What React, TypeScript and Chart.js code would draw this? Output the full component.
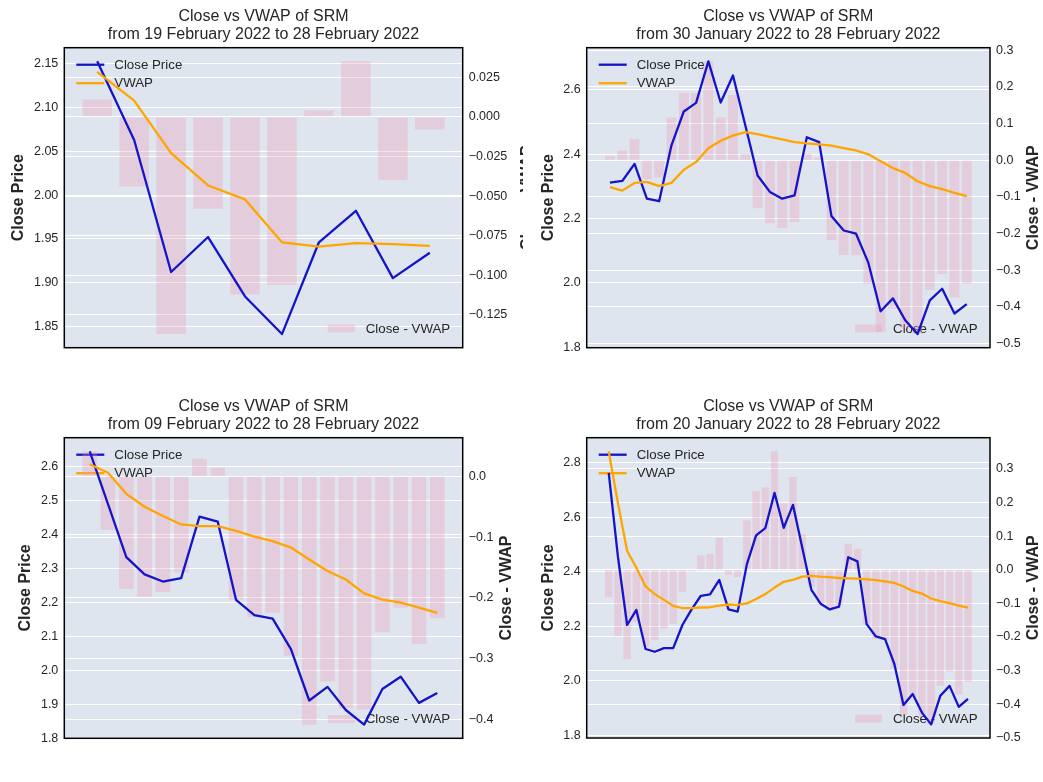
import React, { useEffect, useRef } from "react";
import { Chart, registerables } from "chart.js";

Chart.register(...registerables);

// ---------------- data ----------------
// Daily close price of SRM, 20 January 2022 .. 28 February 2022 (40 days)
const closePrices = [
  2.762, 2.455, 2.205, 2.26, 2.117, 2.107, 2.12, 2.12, 2.205, 2.262,
  2.312, 2.317, 2.37, 2.262, 2.254, 2.428, 2.533, 2.56, 2.689, 2.561,
  2.645, 2.49, 2.334, 2.283, 2.262, 2.272, 2.453, 2.438, 2.208, 2.163,
  2.153, 2.063, 1.912, 1.952, 1.884, 1.841, 1.946, 1.982, 1.905, 1.934,
];

// VWAP accumulated from each window start
const vwapFrom19Feb = [2.141, 2.108, 2.048, 2.011, 1.995, 1.946, 1.941, 1.945, 1.944, 1.942];
const vwapFrom30Jan = [
  2.298, 2.287, 2.311, 2.314, 2.301, 2.311, 2.352, 2.376, 2.419, 2.442,
  2.458, 2.469, 2.463, 2.454, 2.446, 2.438, 2.434, 2.431, 2.427, 2.419,
  2.412, 2.4, 2.378, 2.357, 2.342, 2.316, 2.301, 2.292, 2.28, 2.27,
];
const vwapFrom09Feb = [
  2.607, 2.582, 2.52, 2.482, 2.455, 2.43, 2.425, 2.425, 2.411, 2.394,
  2.381, 2.362, 2.327, 2.293, 2.268, 2.227, 2.209, 2.2, 2.185, 2.17,
];
const vwapFrom20Jan = [
  2.841, 2.652, 2.476, 2.415, 2.346, 2.318, 2.297, 2.275, 2.267, 2.267,
  2.269, 2.27, 2.276, 2.28, 2.279, 2.284, 2.3, 2.318, 2.342, 2.363,
  2.37, 2.382, 2.385, 2.382, 2.38, 2.377, 2.376, 2.375, 2.372, 2.369,
  2.365, 2.359, 2.346, 2.33, 2.32, 2.302, 2.292, 2.285, 2.276, 2.269,
];

// Close - VWAP bars
const diffFrom19Feb = [0.011, -0.044, -0.137, -0.058, -0.112, -0.106, 0.004, 0.035, -0.04, -0.008];
const diffFrom30Jan = [
  0.012, 0.027, 0.058, -0.052, -0.047, 0.117, 0.184, 0.184, 0.27, 0.117,
  0.178, 0.018, -0.131, -0.172, -0.185, -0.168, 0.017, 0.007, -0.218, -0.258,
  -0.259, -0.336, -0.468, -0.404, -0.458, -0.474, -0.354, -0.31, -0.374, -0.336,
];
const diffFrom09Feb = [
  0.041, -0.088, -0.185, -0.198, -0.19, -0.158, 0.029, 0.014, -0.203, -0.231,
  -0.224, -0.295, -0.408, -0.337, -0.381, -0.383, -0.256, -0.216, -0.276, -0.233,
];
const diffFrom20Jan = [
  -0.082, -0.198, -0.266, -0.155, -0.229, -0.209, -0.176, -0.161, -0.066, -0.005,
  0.042, 0.047, 0.094, -0.016, -0.022, 0.147, 0.234, 0.245, 0.352, 0.198,
  0.276, 0.105, -0.051, -0.099, -0.118, -0.105, 0.077, 0.062, -0.164, -0.206,
  -0.21, -0.294, -0.433, -0.377, -0.436, -0.46, -0.345, -0.303, -0.371, -0.333,
];

// tick values
const leftTicks19Feb = [1.85, 1.9, 1.95, 2.0, 2.05, 2.1, 2.15];
const rightTicks19Feb = [-0.125, -0.1, -0.075, -0.05, -0.025, 0, 0.025];
const leftTicks30Jan = [1.8, 2.0, 2.2, 2.4, 2.6];
const rightTicks30Jan = [-0.5, -0.4, -0.3, -0.2, -0.1, 0, 0.1, 0.2, 0.3];
const leftTicks09Feb = [1.8, 1.9, 2.0, 2.1, 2.2, 2.3, 2.4, 2.5, 2.6];
const rightTicks09Feb = [-0.4, -0.3, -0.2, -0.1, 0];
const leftTicks20Jan = [1.8, 2.0, 2.2, 2.4, 2.6, 2.8];
const rightTicks20Jan = [-0.5, -0.4, -0.3, -0.2, -0.1, 0, 0.1, 0.2, 0.3];

const symbol = "SRM";
const endDate = "28 February 2022";
const seriesNames = ["Close Price", "VWAP", "Close - VWAP"];
const axisNames = ["Close Price", "Close - VWAP"];

// ---------------- style ----------------
const FONT = '"Liberation Sans", Arial, Helvetica, sans-serif';
const TEXT = "#262626";
const PLOT_BG = "#dfe5ef";
const CLOSE_COLOR = "#1414c8";
const VWAP_COLOR = "#ffa500";
const BAR_COLOR = "rgba(240, 150, 175, 0.3)";

type Panel = {
  canvas: [number, number, number, number]; // x, y, w, h (page)
  plot: [number, number, number, number]; // left, top, right, bottom (page)
  start: string;
  vwap: number[];
  diff: number[];
  leftTicks: number[];
  leftDec: number;
  rightTicks: number[];
  rightDec: number;
  rightLabelX?: number; // page x override
};

const panels: Panel[] = [
  {
    canvas: [0, 0, 523, 391],
    plot: [64.3, 47.7, 462.7, 347.7],
    start: "19 February 2022",
    vwap: vwapFrom19Feb,
    diff: diffFrom19Feb,
    leftTicks: leftTicks19Feb,
    leftDec: 2,
    rightTicks: rightTicks19Feb,
    rightDec: 3,
    rightLabelX: 528,
  },
  {
    canvas: [523, 0, 520, 391],
    plot: [586.7, 47.7, 990, 347.7],
    start: "30 January 2022",
    vwap: vwapFrom30Jan,
    diff: diffFrom30Jan,
    leftTicks: leftTicks30Jan,
    leftDec: 1,
    rightTicks: rightTicks30Jan,
    rightDec: 1,
  },
  {
    canvas: [0, 391, 523, 391],
    plot: [64.3, 437.7, 462.7, 738.3],
    start: "09 February 2022",
    vwap: vwapFrom09Feb,
    diff: diffFrom09Feb,
    leftTicks: leftTicks09Feb,
    leftDec: 1,
    rightTicks: rightTicks09Feb,
    rightDec: 1,
  },
  {
    canvas: [523, 391, 520, 391],
    plot: [586.7, 437.7, 990, 738],
    start: "20 January 2022",
    vwap: vwapFrom20Jan,
    diff: diffFrom20Jan,
    leftTicks: leftTicks20Jan,
    leftDec: 1,
    rightTicks: rightTicks20Jan,
    rightDec: 1,
  },
];

const fmt = (v: number, dec: number) => {
  const s = Math.abs(v).toFixed(dec);
  return v < -1e-9 ? "\u2212" + s : s;
};

const paddedRange = (vals: number[]) => {
  const lo = Math.min(...vals);
  const hi = Math.max(...vals);
  const m = (hi - lo) * 0.05;
  return [lo - m, hi + m];
};

function PanelChart({ p }: { p: Panel }) {
  const ref = useRef<HTMLCanvasElement | null>(null);

  useEffect(() => {
    if (!ref.current) return;
    const [cx, cy, cw, ch] = p.canvas;
    const [pl, pt, pr, pb] = p.plot;
    const n = p.vwap.length;
    const close = closePrices.slice(closePrices.length - n);
    const xPad = 0.05 * (n - 0.2);
    const xMin = -0.4 - xPad;
    const xMax = n - 1 + 0.4 + xPad;
    const [yMin, yMax] = paddedRange([...close, ...p.vwap]);
    const [y1Min, y1Max] = paddedRange(p.diff);

    const leftW = pl - cx;
    const rightW = cx + cw - pr;
    const padTop = pt - cy;
    const padBottom = cy + ch - pb;

    const tickFont = { family: FONT, size: 12.5 };

    const deco = {
      id: "panelDeco",
      beforeDraw(chart: any) {
        const { ctx, chartArea: a, width, height } = chart;
        ctx.save();
        ctx.fillStyle = "#ffffff";
        ctx.fillRect(0, 0, width, height);
        ctx.fillStyle = PLOT_BG;
        ctx.fillRect(a.left, a.top, a.right - a.left, a.bottom - a.top);
        ctx.restore();
      },
      beforeDatasetsDraw(chart: any) {
        const { ctx, chartArea: a } = chart;
        ctx.save();
        ctx.font = `13.3px ${FONT}`;
        ctx.textBaseline = "middle";
        ctx.fillStyle = TEXT;
        // line legend (upper left)
        const rows = [
          { name: seriesNames[0], color: CLOSE_COLOR, y: a.top + 17 },
          { name: seriesNames[1], color: VWAP_COLOR, y: a.top + 35.5 },
        ];
        rows.forEach((r) => {
          ctx.strokeStyle = r.color;
          ctx.lineWidth = 2.3;
          ctx.beginPath();
          ctx.moveTo(a.left + 12, r.y);
          ctx.lineTo(a.left + 40, r.y);
          ctx.stroke();
          ctx.textAlign = "left";
          ctx.fillText(r.name, a.left + 50, r.y + 0.5);
        });
        // bar legend (lower right)
        const by = a.bottom - 19.3;
        const tw = ctx.measureText(seriesNames[2]).width;
        const tx = a.right - 12.5 - tw;
        ctx.fillStyle = BAR_COLOR;
        ctx.fillRect(tx - 38, by - 4, 27, 8);
        ctx.fillStyle = TEXT;
        ctx.textAlign = "left";
        ctx.fillText(seriesNames[2], tx, by + 0.5);
        ctx.restore();
      },
      afterDraw(chart: any) {
        const { ctx, chartArea: a } = chart;
        ctx.save();
        // spines
        ctx.strokeStyle = "#000000";
        ctx.lineWidth = 1.5;
        ctx.strokeRect(a.left, a.top, a.right - a.left, a.bottom - a.top);
        // title
        const mid = (a.left + a.right) / 2;
        ctx.fillStyle = TEXT;
        ctx.font = `16px ${FONT}`;
        ctx.textAlign = "center";
        ctx.textBaseline = "middle";
        ctx.fillText(`Close vs VWAP of ${symbol}`, mid, a.top - 31.5);
        ctx.fillText(`from ${p.start} to ${endDate}`, mid, a.top - 13);
        // axis labels
        ctx.font = `12.5px ${FONT}`;
        const lw = Math.max(...p.leftTicks.map((v) => ctx.measureText(fmt(v, p.leftDec)).width));
        const rw = Math.max(...p.rightTicks.map((v) => ctx.measureText(fmt(v, p.rightDec)).width));
        const yMid = (a.top + a.bottom) / 2;
        ctx.font = `bold 16px ${FONT}`;
        const lx = a.left - 6 - lw - 15;
        ctx.save();
        ctx.translate(lx, yMid);
        ctx.rotate(-Math.PI / 2);
        ctx.fillText(axisNames[0], 0, 0);
        ctx.restore();
        const rx = p.rightLabelX !== undefined ? p.rightLabelX - cx : a.right + 6 + rw + 13;
        ctx.save();
        ctx.translate(rx, yMid);
        ctx.rotate(-Math.PI / 2);
        ctx.fillText(axisNames[1], 0, 0);
        ctx.restore();
        ctx.restore();
      },
    };

    const chart = new Chart(ref.current, {
      data: {
        datasets: [
          {
            type: "line",
            label: seriesNames[1],
            data: p.vwap.map((v, i) => ({ x: i, y: v })),
            borderColor: VWAP_COLOR,
            borderWidth: 2.3,
            pointRadius: 0,
            tension: 0,
            fill: false,
            yAxisID: "y",
            xAxisID: "x",
            borderJoinStyle: "round",
            order: 1,
          },
          {
            type: "line",
            label: seriesNames[0],
            data: close.map((v, i) => ({ x: i, y: v })),
            borderColor: CLOSE_COLOR,
            borderWidth: 2.3,
            pointRadius: 0,
            tension: 0,
            fill: false,
            yAxisID: "y",
            xAxisID: "x",
            borderJoinStyle: "round",
            order: 2,
          },
          {
            type: "bar",
            label: seriesNames[2],
            data: p.diff.map((v, i) => ({ x: i, y: v })),
            backgroundColor: BAR_COLOR,
            borderWidth: 0,
            barPercentage: 0.8,
            categoryPercentage: 1.0,
            yAxisID: "y1",
            xAxisID: "x",
            order: 3,
          },
        ] as any,
      },
      options: {
        animation: false,
        responsive: false,
        maintainAspectRatio: false,
        events: [],
        layout: { padding: { top: padTop, bottom: padBottom, left: 0, right: 0 } },
        plugins: {
          legend: { display: false },
          title: { display: false },
          tooltip: { enabled: false },
        },
        scales: {
          x: { type: "linear", min: xMin, max: xMax, offset: false, display: false },
          y: {
            type: "linear",
            position: "left",
            min: yMin,
            max: yMax,
            grid: { color: "#ffffff", lineWidth: 1.1, drawTicks: false },
            border: { display: false },
            ticks: {
              padding: 6,
              color: TEXT,
              font: tickFont,
              autoSkip: false,
              callback: (v: any) => fmt(Number(v), p.leftDec),
            },
            afterBuildTicks: (s: any) => {
              s.ticks = p.leftTicks.map((v) => ({ value: v }));
            },
            afterFit: (s: any) => {
              s.width = leftW;
            },
          },
          y1: {
            type: "linear",
            position: "right",
            min: y1Min,
            max: y1Max,
            grid: { color: "#ffffff", lineWidth: 1.1, drawTicks: false, drawOnChartArea: true },
            border: { display: false },
            ticks: {
              padding: 6,
              color: TEXT,
              font: tickFont,
              autoSkip: false,
              callback: (v: any) => fmt(Number(v), p.rightDec),
            },
            afterBuildTicks: (s: any) => {
              s.ticks = p.rightTicks.map((v) => ({ value: v }));
            },
            afterFit: (s: any) => {
              s.width = rightW;
            },
          },
        } as any,
      },
      plugins: [deco],
    } as any);

    return () => chart.destroy();
  }, [p]);

  const [cx, cy, cw, ch] = p.canvas;
  return (
    <canvas
      ref={ref}
      width={cw}
      height={ch}
      style={{ position: "absolute", left: cx, top: cy, width: cw, height: ch }}
    />
  );
}

export default function App() {
  return (
    <div
      style={{
        position: "absolute",
        left: 0,
        top: 0,
        width: 1043,
        height: 782,
        background: "#ffffff",
        overflow: "hidden",
      }}
    >
      {panels.map((p, i) => (
        <PanelChart key={i} p={p} />
      ))}
    </div>
  );
}
